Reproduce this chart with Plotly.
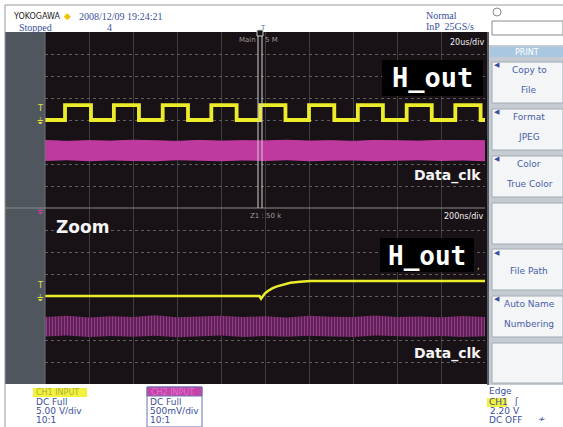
import plotly.graph_objects as go

W, H = 563, 427

# ---- main window, 20 us/div (H_out square wave edges in us, levels in div)
main_rise_us = [-90.9, -68.7, -46.5, -24.4, -2.2, 20.0, 42.2, 64.4, 86.5]
main_fall_us = [-79.1, -57.3, -35.0, -12.9, 9.3, 31.5, 53.6, 75.8, 98.0]
h_out_low = 0.0
h_out_high = 0.68

# main window Data_clk envelope (div)
main_clk_t = [-100, -90, -80, -70, -60, -50, -40, -30, -20, -10, 0,
              10, 20, 30, 40, 50, 60, 70, 80, 90, 100]
main_clk_top = [-0.93, -0.97, -0.94, -0.96, -0.92, -0.95, -0.97, -0.93, -0.96, -0.94, -0.95,
                -0.92, -0.96, -0.94, -0.97, -0.93, -0.95, -0.96, -0.93, -0.95, -0.94]
main_clk_bot = [-1.86, -1.83, -1.87, -1.84, -1.86, -1.88, -1.83, -1.85, -1.87, -1.84, -1.86,
                -1.83, -1.87, -1.85, -1.84, -1.88, -1.85, -1.83, -1.86, -1.84, -1.87]

# ---- zoom window, 200 ns/div
zoom_t_ns = [-1000, -25, -18, -12, -6, 0, 15, 35, 55, 85, 115, 160, 205, 300, 1000]
zoom_h_out = [0.0, 0.0, -0.12, -0.02, 0.06, 0.12, 0.24, 0.36, 0.44, 0.53, 0.6, 0.65, 0.68, 0.68, 0.68]

zoom_clk_t = [-1000, -900, -800, -700, -600, -500, -400, -300, -200, -100, 0,
              100, 200, 300, 400, 500, 600, 700, 800, 900, 1000]
zoom_clk_top = [-0.95, -0.9, -0.98, -0.92, -0.96, -0.88, -0.97, -0.93, -0.9, -0.96, -0.92,
                -0.98, -0.9, -0.94, -0.96, -0.89, -0.95, -0.93, -0.97, -0.91, -0.95]
zoom_clk_bot = [-1.84, -1.8, -1.86, -1.82, -1.85, -1.81, -1.87, -1.83, -1.8, -1.86, -1.82,
                -1.85, -1.81, -1.84, -1.86, -1.8, -1.83, -1.85, -1.82, -1.86, -1.83]

YELLOW = '#ecec2a'
MAGENTA = '#bf3a9e'
DARK = '#181216'
BLUE_TXT = '#3a4f9e'
UI_FONT = 'DejaVu Sans'


def px(x):
    return x / W


def py(y):
    return 1 - y / H


# build square wave points from the edge lists
sq_x, sq_y = [-100], [h_out_low]
for r, f in zip(main_rise_us, main_fall_us):
    sq_x += [r, r, f, f]
    sq_y += [h_out_low, h_out_high, h_out_high, h_out_low]
sq_x.append(100)
sq_y.append(h_out_low)

fig = go.Figure()

# main window traces
fig.add_trace(go.Scatter(x=main_clk_t, y=main_clk_bot, mode='lines', line=dict(width=0, color=MAGENTA),
                         xaxis='x', yaxis='y', hoverinfo='skip'))
fig.add_trace(go.Scatter(x=main_clk_t, y=main_clk_top, mode='lines', line=dict(width=1, color=MAGENTA),
                         fill='tonexty', fillcolor=MAGENTA, xaxis='x', yaxis='y', hoverinfo='skip'))
fig.add_trace(go.Scatter(x=sq_x, y=sq_y, mode='lines', line=dict(width=3.8, color=YELLOW),
                         xaxis='x', yaxis='y', hoverinfo='skip'))

# zoom window traces
fig.add_trace(go.Scatter(x=zoom_clk_t, y=zoom_clk_bot, mode='lines', line=dict(width=0, color=MAGENTA),
                         xaxis='x2', yaxis='y2', hoverinfo='skip'))
fig.add_trace(go.Scatter(x=zoom_clk_t, y=zoom_clk_top, mode='lines', line=dict(width=0, color=MAGENTA),
                         fill='tonexty', fillcolor='#6a2360',
                         fillpattern=dict(shape='|', size=3, solidity=0.5, fgcolor='#d95ec8', bgcolor='#4e1846'),
                         xaxis='x2', yaxis='y2', hoverinfo='skip'))
fig.add_trace(go.Scatter(x=zoom_t_ns, y=zoom_h_out, mode='lines', line=dict(width=2.5, color=YELLOW),
                         xaxis='x2', yaxis='y2', hoverinfo='skip'))

axis_common = dict(showticklabels=False, zeroline=False, showline=False, ticks='', fixedrange=True)

fig.update_layout(
    width=W, height=H,
    margin=dict(l=0, r=0, t=0, b=0),
    paper_bgcolor='white',
    plot_bgcolor=DARK,
    showlegend=False,
    xaxis=dict(domain=[px(45), px(485)], range=[-100, 100], dtick=20, tick0=0, anchor='y',
               gridcolor='#3e3e3e', gridwidth=1, **axis_common),
    yaxis=dict(domain=[py(208), py(32)], range=[-4, 4], dtick=1, tick0=0, anchor='x',
               gridcolor='#5e5e5e', griddash='dot', **axis_common),
    xaxis2=dict(domain=[px(45), px(485)], range=[-1000, 1000], dtick=200, tick0=0, anchor='y2',
                gridcolor='#3e3e3e', gridwidth=1, **axis_common),
    yaxis2=dict(domain=[py(384), py(208)], range=[-4, 4], dtick=1, tick0=0, anchor='x2',
                gridcolor='#5e5e5e', griddash='dot', **axis_common),
)

shapes = []


def rect(x0, y0, x1, y1, fill, line_color=None, width=0, layer='below'):
    shapes.append(dict(type='rect', xref='paper', yref='paper',
                       x0=px(x0), x1=px(x1), y0=py(y1), y1=py(y0),
                       fillcolor=fill, line=dict(color=line_color or fill, width=width), layer=layer))


def line(x0, y0, x1, y1, color, width=1, layer='above'):
    shapes.append(dict(type='line', xref='paper', yref='paper',
                       x0=px(x0), x1=px(x1), y0=py(y0), y1=py(y1),
                       line=dict(color=color, width=width), layer=layer))


# screen frame
rect(5, 32, 488, 384, DARK)
rect(5, 32, 45, 384, '#4f565e', layer='above')
line(45, 32, 45, 384, '#6c737b', 1)
line(5, 5, 563, 5, '#9a9a9a', 1)
line(5, 5, 5, 427, '#9a9a9a', 1)
line(5, 208, 485, 208, '#8c8c8c', 1.2)

# zoom box markers in the main window
line(258, 34, 258, 208, '#cfcfcf', 1)
line(262, 34, 262, 208, '#cfcfcf', 1)
rect(257, 30, 263, 36, DARK, '#cfcfcf', 1, layer='above')

# label boxes
rect(382, 60, 483, 96, '#000000', layer='above')
rect(380, 238, 474, 272, '#000000', layer='above')

# right menu panel
rect(487, 45, 563, 385, '#c5cbd2', layer='above')
line(488, 32, 488, 385, '#5a5f66', 2)
rect(490, 47, 563, 57, '#a9c7df', layer='above')
buttons = [(62, 103), (109, 150), (156, 197), (203, 244), (249, 290), (296, 337), (343, 383)]
for y0, y1 in buttons:
    rect(492, y0, 563, y1, '#f3f5f7', '#a3aab2', 1, layer='above')

# header box and circle
rect(492, 21, 563, 35, 'white', '#8a8a8a', 1, layer='above')
shapes.append(dict(type='circle', xref='paper', yref='paper', x0=px(493), x1=px(501), y0=py(16), y1=py(8),
                   line=dict(color='#8a8a8a', width=1), fillcolor='white', layer='above'))

# bottom info boxes
rect(33, 388, 87, 397, '#f2f23c', layer='above')
rect(147, 387, 202, 427, 'white', '#6c74b4', 1, layer='above')
rect(147, 387, 202, 396, '#c544a8', '#6c74b4', 1, layer='above')
rect(487, 398, 507, 407, '#f2f23c', layer='above')

fig.update_layout(shapes=shapes)

ann = []


def text(x, y, s, size=9, color=BLUE_TXT, xanchor='left', family=UI_FONT, bg=None):
    ann.append(dict(xref='paper', yref='paper', x=px(x), y=py(y), text=s, showarrow=False,
                    xanchor=xanchor, yanchor='middle', font=dict(size=size, color=color, family=family),
                    bgcolor=bg, borderpad=0))


# header
text(12, 16, 'YOKOGAWA', 8, '#222222')
text(63, 16, '\u25c6', 9, '#f2c200')
text(78, 16, '2008/12/09 19:24:21', 10, BLUE_TXT, family='Liberation Serif')
text(18, 28, 'Stopped', 10, BLUE_TXT, family='Liberation Serif')
text(106, 28, '4', 10, BLUE_TXT, family='Liberation Serif')
text(425, 15, 'Normal', 10, BLUE_TXT, family='Liberation Serif')
text(425, 27, 'InP  25GS/s', 10, BLUE_TXT, family='Liberation Serif')
text(263, 28, 'T', 7, '#5a74c0', 'center')

# screen labels
text(485, 42, '20us/div', 8, '#f0f0f0', 'right')
text(257, 40, 'Main', 7, '#9a9a9a', 'right')
text(264, 40, '5 M', 7, '#9a9a9a')
text(485, 216, '200ns/div', 8, '#f0f0f0', 'right')
text(266, 216, 'Z1 : 50 k', 7, '#9a9a9a', 'center')
text(432, 78, '<b>H_out</b>', 27, '#ffffff', 'center', 'DejaVu Sans Mono')
text(427, 256, '<b>H_out</b>', 26, '#ffffff', 'center', 'DejaVu Sans Mono')
text(478, 266, ',', 8, '#d8d8a0', 'center')
text(482, 175, '<b>Data_clk</b>', 14, '#f4f4f4', 'right')
text(482, 353, '<b>Data_clk</b>', 14, '#f4f4f4', 'right')
text(55, 227, '<b>Zoom</b>', 17, '#f4f4f4')

# channel markers on the left strip
text(40, 108, 'T', 8, '#e6e040', 'center')
text(40, 121, '\u23da', 9, '#e6e040', 'center')
text(40, 285, 'T', 8, '#e6e040', 'center')
text(40, 298, '\u23da', 9, '#e6e040', 'center')
text(40, 211, '\u23da', 9, '#c53fa6', 'center')

# right menu
text(527, 52, 'PRINT', 8, '#ffffff', 'center')
menu = [('Copy to', 70), ('File', 90), ('Format', 117), ('JPEG', 137), ('Color', 164),
        ('True Color', 184), ('File Path', 271), ('Auto Name', 304), ('Numbering', 324)]
for s, y in menu:
    text(529, y, s, 9, '#4a5fa8', 'center')
for y in [65, 112, 159, 253, 299]:
    text(497, y, '\u25c0', 7, '#3a4f9e', 'center')

# bottom info
text(35, 392, 'CH1 INPUT', 8, '#b0b040')
text(35, 402, 'DC Full', 9)
text(35, 411, '5.00 V/div', 9)
text(35, 420, '10:1', 9)
text(150, 392, 'CH2 INPUT', 8, '#e070cc')
text(149, 402, 'DC Full', 9)
text(149, 411, '500mV/div', 9)
text(149, 420, '10:1', 9)
text(488, 391, 'Edge', 9)
text(488, 402, 'CH1', 9)
text(513, 401, '\u0283', 9, '#3a4f9e')
text(489, 411, '2.20 V', 9)
text(488, 420, 'DC OFF', 9)
text(537, 419, '\u2241', 9, '#3a4f9e')

fig.update_layout(annotations=ann)

fig.write_html('out.html', config={'displayModeBar': False},
               post_script="document.body.style.margin='0';")
